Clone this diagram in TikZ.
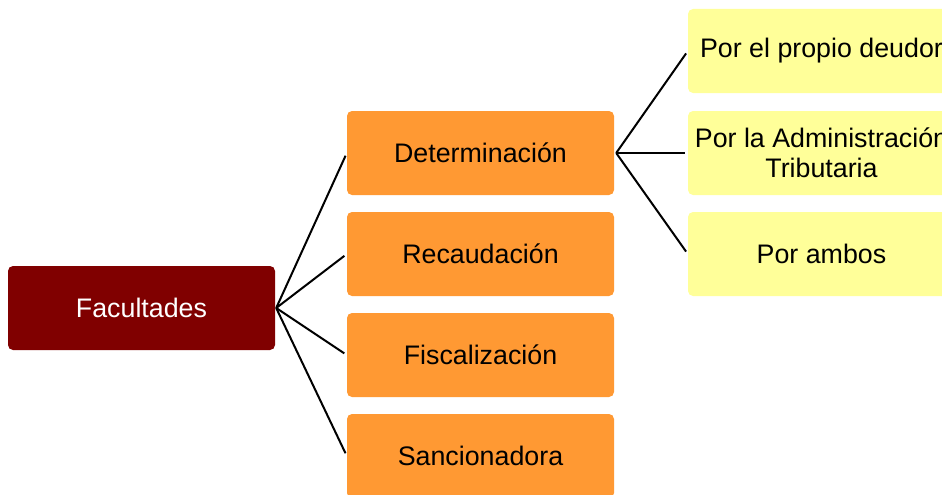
\documentclass[tikz,border=0pt]{standalone}
\usepackage{fontspec}
\setmainfont{Liberation Sans}
\definecolor{darkred}{HTML}{800000}
\definecolor{orangebox}{HTML}{FF9933}
\definecolor{yellowbox}{HTML}{FFFF99}
\begin{document}
\begin{tikzpicture}[x=1pt,y=-1pt,
  box/.style={rounded corners=5pt, minimum width=267pt, minimum height=84pt, inner sep=0pt, align=center,
    font=\fontsize{26.8}{30}\selectfont},
  rootbox/.style={box, fill=darkred, text=white},
  midbox/.style={box, fill=orangebox, text=black},
  leafbox/.style={box, fill=yellowbox, text=black},
  conn/.style={line width=2pt, black, shorten >=3pt}
]
\useasboundingbox (0,0) rectangle (942,495);
\clip (0,0) rectangle (942,495);
\node[rootbox] (fac) at (141.5,308) {Facultades};
\node[midbox] (det) at (480.5,153) {Determinación};
\node[midbox] (rec) at (480.5,254) {Recaudación};
\node[midbox] (fis) at (480.5,355) {Fiscalización};
\node[midbox] (san) at (480.5,456) {Sancionadora};
\node[leafbox] (l1) at (821.5,51) {Por el propio deudor};
\node[leafbox] (l2) at (821.5,153) {Por la Administración\\Tributaria};
\node[leafbox] (l3) at (821.5,254) {Por ambos};
\foreach \t in {det,rec,fis,san} \draw[conn] ([xshift=1pt]fac.east) -- (\t.west);
\foreach \t in {l1,l2,l3} \draw[conn] ([xshift=2pt]det.east) -- (\t.west);
\end{tikzpicture}
\end{document}
